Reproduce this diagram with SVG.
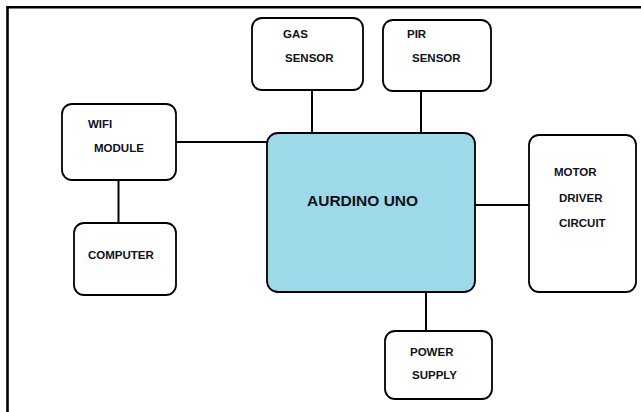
<svg xmlns="http://www.w3.org/2000/svg" width="641" height="412" viewBox="0 0 641 412">
<style>
.box{fill:#fff;stroke:#000;stroke-width:1.8}
.main{fill:#9dd9e8;stroke:#000;stroke-width:1.8}
.conn{stroke:#000;stroke-width:2;fill:none}
.frame{stroke:#000;stroke-width:2.6;fill:none}
text{font-family:"Liberation Sans",Arial,sans-serif;font-weight:bold;font-size:11.5px;fill:#101018}
.big{font-size:15.5px}
</style>
<rect width="641" height="412" fill="#fff"/>
<path class="frame" d="M7.5,412 V7.3 H641"/>
<g id="connectors">
<line class="conn" x1="312" y1="90" x2="312" y2="133"/>
<line class="conn" x1="421" y1="91" x2="421" y2="133"/>
<line class="conn" x1="176" y1="142" x2="267" y2="142"/>
<line class="conn" x1="118.5" y1="180" x2="118.5" y2="223"/>
<line class="conn" x1="475" y1="205" x2="529" y2="205"/>
<line class="conn" x1="426" y1="292" x2="426" y2="331"/>
</g>
<g id="gas-sensor">
<rect class="box" x="252" y="18" width="111" height="72" rx="10"/>
<text x="283" y="38">GAS</text>
<text x="285" y="62">SENSOR</text>
</g>
<g id="pir-sensor">
<rect class="box" x="383" y="20" width="108" height="71" rx="10"/>
<text x="407" y="38">PIR</text>
<text x="412" y="62">SENSOR</text>
</g>
<g id="wifi-module">
<rect class="box" x="62" y="104" width="114" height="76" rx="10"/>
<text x="88" y="128">WIFI</text>
<text x="94" y="152">MODULE</text>
</g>
<g id="computer">
<rect class="box" x="74" y="223" width="102" height="72" rx="10"/>
<text x="88" y="259">COMPUTER</text>
</g>
<g id="aurdino-uno">
<rect class="main" x="267" y="133" width="208" height="159" rx="11"/>
<text class="big" x="307" y="206">AURDINO UNO</text>
</g>
<g id="motor-driver">
<rect class="box" x="529" y="135" width="107" height="157" rx="10"/>
<text x="554" y="176">MOTOR</text>
<text x="559" y="202">DRIVER</text>
<text x="559" y="227">CIRCUIT</text>
</g>
<g id="power-supply">
<rect class="box" x="385" y="331" width="107" height="68" rx="10"/>
<text x="410" y="356">POWER</text>
<text x="412" y="379">SUPPLY</text>
</g>
</svg>
